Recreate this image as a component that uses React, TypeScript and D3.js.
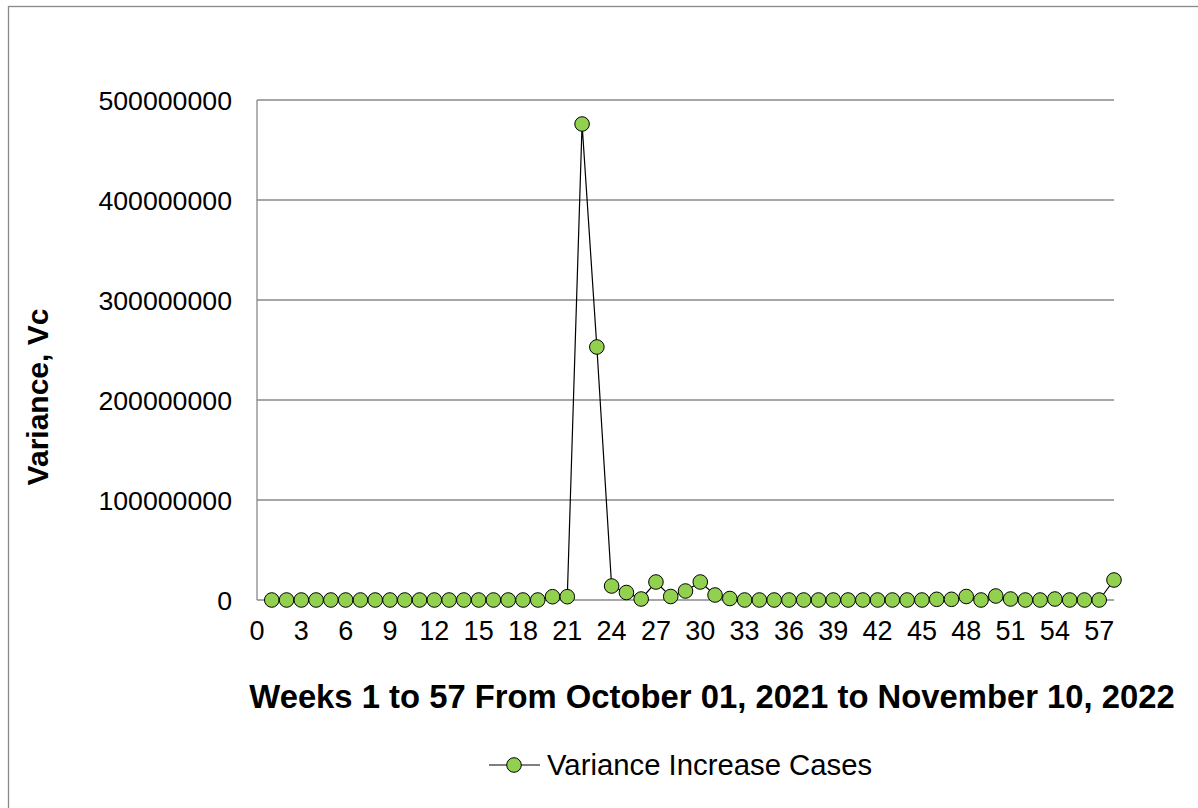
import React from 'react';
import * as d3 from 'd3';

// weeks 1..58 and the variance (approx.)
const weeks = d3.range(1, 59);
const variance = [
  0, 0, 0, 0, 0, 0, 0, 0, 0, 0,
  0, 0, 0, 0, 0, 0, 0, 0, 0, 3300000,
  3300000, 476000000, 253000000, 14000000, 7500000, 1000000, 18000000, 3500000, 9000000, 18000000,
  5000000, 1500000, 0, 0, 0, 0, 0, 0, 0, 0,
  0, 0, 0, 0, 0, 700000, 700000, 3500000, 0, 4000000,
  1000000, 0, 0, 1000000, 0, 0, 0, 20000000,
];
const xTicks = d3.range(0, 58, 3);
const yTicks = [0, 100000000, 200000000, 300000000, 400000000, 500000000];

const seriesName = 'Variance Increase Cases';
const xTitle = 'Weeks 1 to 57 From October 01, 2021 to November 10, 2022';
const yTitle = 'Variance, Vc';

const W = 1198;
const H = 808;
const plot = { left: 257, right: 1114, top: 100, bottom: 600 };
const font = 'Liberation Sans, Arial, sans-serif';
const grid = '#898989';
const green = '#92d050';

export default function App() {
  const x = d3.scaleLinear().domain([0, 58]).range([plot.left, plot.right]);
  const y = d3.scaleLinear().domain([0, 500000000]).range([plot.bottom, plot.top]);

  const pts = weeks.map((w, i) => ({ w, v: variance[i] }));
  const line = d3
    .line<{ w: number; v: number }>()
    .x(d => x(d.w))
    .y(d => y(d.v));

  return (
    <svg
      width={W}
      height={H}
      style={{ position: 'absolute', left: 0, top: 0, display: 'block', background: '#fff' }}
      fontFamily={font}
    >
      {/* chart border (runs off the right and bottom edge) */}
      <rect x={8.5} y={6.5} width={1300} height={900} fill="none" stroke={grid} strokeWidth={1.3} />

      {/* gridlines */}
      {yTicks.slice(1).map(t => (
        <line key={t} x1={plot.left} x2={plot.right} y1={y(t)} y2={y(t)} stroke={grid} strokeWidth={1.3} />
      ))}
      {/* axes */}
      <line x1={plot.left} x2={plot.left} y1={plot.top} y2={plot.bottom} stroke={grid} strokeWidth={1.3} />
      <line x1={plot.left} x2={plot.right} y1={plot.bottom} y2={plot.bottom} stroke={grid} strokeWidth={1.3} />

      {/* y labels */}
      {yTicks.map(t => (
        <text key={t} x={232} y={y(t)} dy="0.36em" textAnchor="end" fontSize={26.7} fill="#000">
          {t}
        </text>
      ))}
      {/* x labels */}
      {xTicks.map(t => (
        <text key={t} x={x(t)} y={640} textAnchor="middle" fontSize={27} fill="#000">
          {t}
        </text>
      ))}

      {/* series */}
      <path d={line(pts) ?? ''} fill="none" stroke="#000" strokeWidth={1.2} />
      {pts.map(d => (
        <circle key={d.w} cx={x(d.w)} cy={y(d.v)} r={7.3} fill={green} stroke="#000" strokeWidth={1} />
      ))}

      {/* titles */}
      <text x={712} y={708} textAnchor="middle" fontSize={32.8} fontWeight="bold" fill="#000">
        {xTitle}
      </text>
      <text
        transform={`translate(48,397) rotate(-90)`}
        textAnchor="middle"
        fontSize={30}
        fontWeight="bold"
        fill="#000"
      >
        {yTitle}
      </text>

      {/* legend */}
      <line x1={489} x2={540} y1={765} y2={765} stroke="#000" strokeWidth={1.2} />
      <circle cx={514} cy={765} r={7.3} fill={green} stroke="#000" strokeWidth={1} />
      <text x={547} y={775} fontSize={29.3} fill="#000">
        {seriesName}
      </text>
    </svg>
  );
}
